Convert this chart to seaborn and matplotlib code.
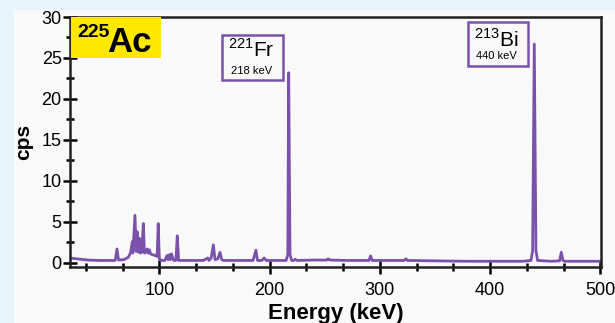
import numpy as np
import matplotlib.pyplot as plt
import matplotlib.patches as patches
from matplotlib.ticker import MultipleLocator
import pandas as pd
import seaborn as sns

# spectrum points (keV, cps)
energy = [19, 25, 35, 45, 55, 60, 61.6, 63, 68, 72, 74, 75.5, 76, 77.9, 79, 80, 81.2, 82, 83,
          84, 85.5, 86.5, 88, 89, 90, 91, 92, 94, 96, 98, 99, 100, 102, 105, 107, 108, 109,
          110, 111, 113, 115, 116.3, 117.5, 120, 130, 140, 144, 145, 147, 149, 150.5, 153,
          155, 156.6, 158, 165, 175, 185, 187.6, 189, 193, 195, 197, 205, 215, 216.5, 217.3,
          218.5, 220, 222, 223, 225, 240, 252, 253, 255, 270, 285, 290, 291.6, 293, 310,
          322, 323.6, 325, 350, 380, 410, 430, 437, 438.5, 440, 441.5, 443, 455, 463, 464.5,
          466, 468, 480, 500]
cps = [0.6, 0.5, 0.35, 0.3, 0.3, 0.3, 1.7, 0.35, 0.4, 0.7, 1.3, 2.6, 1.2, 5.8, 1.4, 3.8, 1.3,
       3.0, 1.2, 1.3, 4.8, 1.2, 1.3, 1.7, 1.2, 1.6, 1.1, 1.0, 0.9, 0.8, 4.8, 0.5, 0.3, 0.3,
       0.9, 0.4, 1.0, 0.4, 1.1, 0.3, 0.3, 3.3, 0.3, 0.3, 0.3, 0.3, 0.6, 0.3, 0.6, 2.2, 0.4,
       0.5, 1.3, 0.4, 0.3, 0.3, 0.3, 0.3, 1.55, 0.3, 0.3, 0.6, 0.3, 0.3, 0.3, 1.0, 23.2,
       1.0, 0.3, 0.3, 0.45, 0.3, 0.35, 0.35, 0.5, 0.35, 0.3, 0.3, 0.3, 0.85, 0.3, 0.3, 0.3,
       0.5, 0.3, 0.25, 0.2, 0.2, 0.2, 0.3, 1.5, 26.7, 1.5, 0.3, 0.2, 0.25, 1.3, 0.3, 0.2,
       0.2, 0.2]

df = pd.DataFrame({"Energy": energy, "cps": cps})
purple = "#7A52AC"

plt.rcParams['font.family'] = ['Liberation Sans', 'DejaVu Sans']
plt.rcParams['mathtext.fontset'] = 'custom'
plt.rcParams['mathtext.rm'] = 'Liberation Sans'
plt.rcParams['mathtext.bf'] = 'Liberation Sans:bold'

fig = plt.figure(figsize=(6.15, 3.23), dpi=100, facecolor="#E8F4FC")
# light panel behind the chart
fig.patches.append(patches.Rectangle((14 / 615, 0), 1, 1 - 10 / 323, transform=fig.transFigure,
                                     facecolor="#F9F9F9", edgecolor="none", zorder=-5))
ax = fig.add_axes([70 / 615, 1 - 267 / 323, 531 / 615, 250 / 323])
ax.set_facecolor("#F9F9F9")

sns.lineplot(data=df, x="Energy", y="cps", color=purple, linewidth=2.0, ax=ax)

ax.set_xlim(19, 500.5)
ax.set_ylim(-0.5, 30)
ax.xaxis.set_major_locator(MultipleLocator(100))
ax.xaxis.set_minor_locator(MultipleLocator(100 / 3))
ax.yaxis.set_major_locator(MultipleLocator(5))
ax.yaxis.set_minor_locator(MultipleLocator(2.5))
ax.tick_params(which="major", direction="inout", length=10, width=1.8, labelsize=13)
ax.tick_params(axis="x", which="major", pad=6)
ax.tick_params(axis="y", which="major", pad=1)
ax.tick_params(which="minor", direction="inout", length=6, width=1.8)
for s in ax.spines.values():
    s.set_linewidth(1.8)
    s.set_color("#222222")

ax.set_xlabel("Energy (keV)", fontsize=16, fontweight="bold", labelpad=3)
ax.set_ylabel("cps", fontsize=15, fontweight="bold", labelpad=6)

# labels
ax.add_patch(patches.Rectangle((19.5, 25), 82, 5, facecolor="#FFE800", edgecolor="none", zorder=3))
ax.text(25.3, 28.1, "225", fontsize=14, fontweight="bold", ha="left", va="center", zorder=4)
ax.text(53.0, 26.9, "Ac", fontsize=25, fontweight="bold", ha="left", va="center", zorder=4)

ax.add_patch(patches.Rectangle((156.8, 22.3), 55.3, 5.5, facecolor="none", edgecolor=purple,
                               linewidth=1.8, zorder=3))
ax.text(183.5, 26.0, r"$^{221}$Fr", fontsize=15, ha="center", va="center")
ax.text(183.5, 23.4, "218 keV", fontsize=8, ha="center", va="center")

ax.add_patch(patches.Rectangle((379.8, 24.0), 54.4, 5.4, facecolor="none", edgecolor=purple,
                               linewidth=1.8, zorder=3))
ax.text(405, 27.3, r"$^{213}$Bi", fontsize=15, ha="center", va="center")
ax.text(406, 25.2, "440 keV", fontsize=8, ha="center", va="center")

fig.savefig("out.png", dpi=100, facecolor=fig.get_facecolor())
